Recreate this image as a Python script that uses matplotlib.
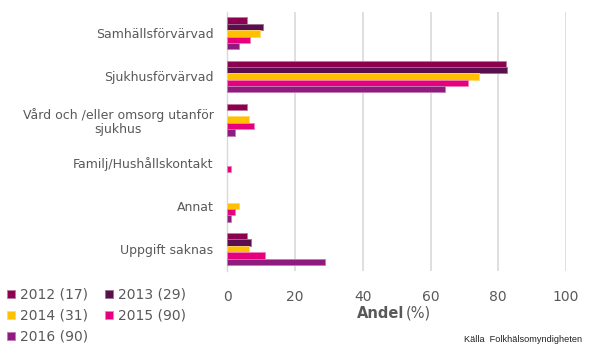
import matplotlib
matplotlib.use("Agg")
import matplotlib.pyplot as plt
from matplotlib.patches import Patch
import numpy as np

categories = ["Samhällsförvärvad", "Sjukhusförvärvad", "Vård och /eller omsorg utanför\nsjukhus",
              "Familj/Hushållskontakt", "Annat", "Uppgift saknas"]
series_labels = ["2012 (17)", "2013 (29)", "2014 (31)", "2015 (90)", "2016 (90)"]
v2012 = [5.9, 82.4, 5.9, 0.0, 0.0, 5.9]
v2013 = [10.5, 82.7, 0.0, 0.0, 0.0, 7.1]
v2014 = [9.6, 74.2, 6.5, 0.0, 3.4, 6.5]
v2015 = [6.8, 71.2, 8.0, 1.0, 2.2, 11.1]
v2016 = [3.4, 64.3, 2.2, 0.0, 1.1, 28.9]
series = [v2012, v2013, v2014, v2015, v2016]
colors = ["#8C0050", "#5A0F4D", "#FFC000", "#E6007E", "#901B7E"]
edges = ["#C07A9E", "#9C6E95", "#FFD96A", "#F27DBA", "#C27BB8"]
xticks = [0, 20, 40, 60, 80, 100]

fig = plt.figure(figsize=(5.9, 3.54), dpi=100)
ax = fig.add_axes([227.3 / 590, 1 - 270.6 / 354, (566 - 227.3) / 590, (270.6 - 11.8) / 354])

n = len(series)
bh = 0.148
y = np.arange(len(categories))
for i, (vals, c, e) in enumerate(zip(series, colors, edges)):
    offs = (i - (n - 1) / 2) * bh
    vals = np.asarray(vals)
    lw = np.where(vals > 0, 0.6, 0.0)
    ax.barh(y + offs, vals, height=bh, color=c, edgecolor=e, linewidth=lw, zorder=3)

ax.set_ylim(len(categories) - 0.5, -0.5)
ax.set_xlim(0, 100)
ax.set_xticks(xticks)
ax.set_yticks(y)
ax.set_yticklabels(categories, fontsize=9, color="#595959", linespacing=1.1)
ax.tick_params(axis="x", length=0, pad=14, labelsize=10, labelcolor="#595959")
ax.tick_params(axis="y", length=0, pad=10)
for lab in ax.get_yticklabels():
    lab.set_horizontalalignment("right")
    lab.set_multialignment("center")
ax.grid(axis="x", color="#D9D9D9", linewidth=1.2, zorder=0)
for s in ["top", "right", "bottom"]:
    ax.spines[s].set_visible(False)
ax.spines["left"].set_color("#D9D9D9")
ax.spines["left"].set_linewidth(1.0)

# x label: bold "Andel" + normal "(%)"
fig.text(404 / 590, 1 - 313 / 354, "Andel", ha="right", va="center", fontsize=10.5,
         fontweight="bold", color="#595959")
fig.text(406 / 590, 1 - 313 / 354, "(%)", ha="left", va="center", fontsize=10.5,
         color="#595959")

# legend
order = [0, 2, 4, 1, 3]
handles = [Patch(facecolor=colors[i], edgecolor=edges[i], linewidth=0.6) for i in order]
labels = [series_labels[i] for i in order]
leg = fig.legend(handles, labels, ncol=2, loc="upper left", bbox_to_anchor=(0.0, 1 - 281 / 354),
                 frameon=False, fontsize=10, handlelength=0.6, handleheight=0.6,
                 handletextpad=0.35, columnspacing=1.2, labelspacing=0.5, borderaxespad=0,
                 borderpad=0.5)
for t in leg.get_texts():
    t.set_color("#595959")

fig.text(582 / 590, 1 - 339 / 354, "Källa  Folkhälsomyndigheten", ha="right", va="center",
         fontsize=6.6, color="#222222", family="Liberation Sans")

fig.savefig("out.png", dpi=100)
